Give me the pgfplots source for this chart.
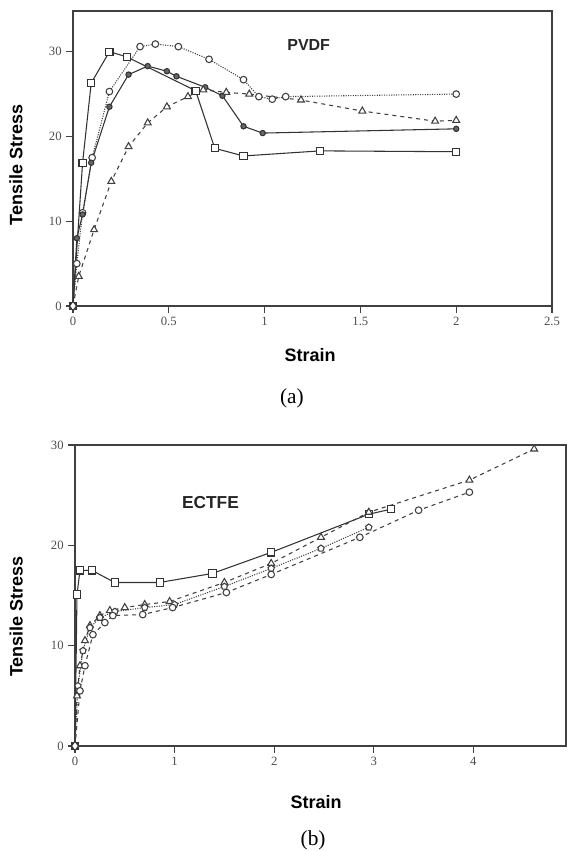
\documentclass[border=0pt]{standalone}
\usepackage{fontspec}
\setmainfont{Liberation Serif}
\setsansfont{Liberation Sans}
\usepackage{pgfplots}
\pgfplotsset{compat=1.18}

\pgfplotsset{
  panel/.style={
    scale only axis,
    clip=false,
    axis line style={black!75, line width=0.9pt},
    tick style={black!75, line width=0.9pt},
    tick align=outside,
    major tick length=5pt,
    xtick pos=left, ytick pos=left,
    tick label style={font=\fontsize{9.5}{10}\selectfont, text=black!70},
    /pgf/number format/assume math mode=true,
    label style={font=\sffamily\bfseries\fontsize{13.5}{15}\selectfont},
    ymin=0, ymax=35,
  },
  sq/.style={black!80, line width=0.8pt, mark=square*, mark size=2.7pt, mark options={solid, fill=white}},
  ci/.style={black!75, line width=0.8pt, densely dotted, mark=*, mark size=2.5pt, mark options={solid, fill=white}},
  fi/.style={black!80, line width=0.8pt, mark=*, mark size=2pt, mark options={solid, fill=black!60}},
  tr/.style={black!75, line width=0.8pt, dashed, mark=triangle*, mark size=3pt, mark options={solid, fill=white}},
  ci2/.style={black!75, line width=0.8pt, dashed, mark=*, mark size=2.5pt, mark options={solid, fill=white}},
  pe/.style={black!75, line width=0.8pt, densely dotted, mark=pentagon*, mark size=2.5pt, mark options={solid, fill=white}},
  dia/.style={black!80, line width=0.8pt, mark=diamond*, mark size=3.5pt, mark options={solid, fill=white}, only marks},
}

\begin{document}
\begin{tikzpicture}
\useasboundingbox (0,0) rectangle (425.25pt,-638.25pt);

% ---------------- (a) PVDF ----------------
\begin{axis}[panel,
  at={(54.75pt,-229.5pt)}, anchor=south west,
  width=359.25pt, height=221.25pt,
  xmin=0, xmax=2.5, ymax=34.8,
  xtick={0,0.5,1,1.5,2,2.5},
  xticklabels={0,0.5,1,1.5,2,2.5},
  ytick={0,10,20,30},
  xlabel={Strain}, ylabel={Tensile Stress},
  xlabel style={at={(axis description cs:0.495,-0.166)}, anchor=center},
  ylabel style={at={(axis description cs:-0.119,0.478)}, anchor=center},
]
\addplot[sq] coordinates {(0,0) (0.05,16.9) (0.095,26.3) (0.19,30) (0.28,29.4) (0.64,25.4) (0.74,18.6) (0.89,17.7) (1.29,18.3) (2.0,18.2)};
\addplot[ci] coordinates {(0,0) (0.02,5) (0.05,11) (0.1,17.5) (0.19,25.3) (0.35,30.6) (0.43,30.9) (0.55,30.6) (0.71,29.1) (0.89,26.7) (0.97,24.7) (1.04,24.4) (1.11,24.7) (2.0,25.0)};
\addplot[fi] coordinates {(0,0) (0.02,8) (0.05,10.8) (0.095,16.9) (0.19,23.5) (0.29,27.3) (0.39,28.3) (0.49,27.7) (0.54,27.1) (0.69,25.8) (0.78,24.8) (0.89,21.2) (0.99,20.4) (2.0,20.9)};
\addplot[tr] coordinates {(0,0) (0.03,3.5) (0.11,9) (0.2,14.7) (0.29,18.8) (0.39,21.6) (0.49,23.5) (0.6,24.7) (0.68,25.5) (0.8,25.2) (0.92,25) (1.19,24.3) (1.51,23.0) (1.89,21.8) (2.0,21.9)};
\addplot[dia] coordinates {(0,0)};
\node[font=\sffamily\bfseries\fontsize{12}{13}\selectfont, text=black!85] at (axis cs:1.23,30.8) {PVDF};
\node[font=\fontsize{16}{18}\selectfont] at (axis description cs:0.457,-0.312) {(a)};
\end{axis}

% ---------------- (b) ECTFE ----------------
\begin{axis}[panel,
  at={(56.25pt,-559.5pt)}, anchor=south west,
  width=368.25pt, height=225.75pt,
  xmin=0, xmax=4.93, ymax=30,
  xtick={0,1,2,3,4},
  ytick={0,10,20,30},
  xlabel={Strain}, ylabel={Tensile Stress},
  xlabel style={at={(axis description cs:0.491,-0.186)}, anchor=center},
  ylabel style={at={(axis description cs:-0.120,0.43)}, anchor=center},
]
\addplot[sq] coordinates {(0,0) (0.02,15.1) (0.05,17.5) (0.17,17.5) (0.4,16.3) (0.85,16.3) (1.38,17.2) (1.97,19.3) (2.95,23.1) (3.17,23.6)};
\addplot[tr] coordinates {(0,0) (0.02,5) (0.05,8) (0.1,10.5) (0.15,12) (0.25,13) (0.35,13.5) (0.5,13.8) (0.7,14.1) (0.95,14.4) (1.5,16.3) (1.97,18.2) (2.47,20.8) (2.95,23.3) (3.96,26.5) (4.61,29.6)};
\addplot[pe] coordinates {(0,0) (0.03,6) (0.08,9.5) (0.15,11.8) (0.25,12.8) (0.4,13.4) (0.7,13.8) (1.0,14.1) (1.5,15.9) (1.97,17.7) (2.47,19.7) (2.95,21.8)};
\addplot[ci2] coordinates {(0,0) (0.05,5.5) (0.1,8) (0.18,11.1) (0.3,12.3) (0.38,13) (0.68,13.1) (0.98,13.8) (1.52,15.3) (1.97,17.1) (2.86,20.8) (3.45,23.5) (3.96,25.3)};
\addplot[dia] coordinates {(0,0)};
\node[font=\sffamily\bfseries\fontsize{13}{14}\selectfont, text=black!85] at (axis cs:1.36,24.3) {ECTFE};
\node[font=\fontsize{16}{18}\selectfont] at (axis description cs:0.485,-0.312) {(b)};
\end{axis}
\end{tikzpicture}
\end{document}
